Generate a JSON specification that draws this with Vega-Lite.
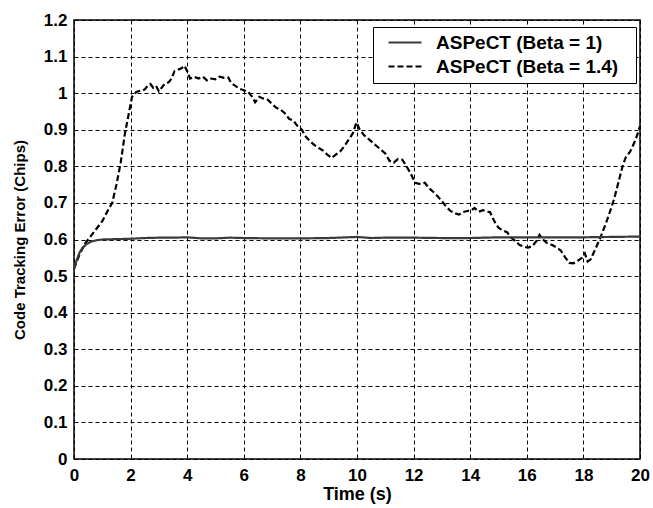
{
  "$schema": "https://vega.github.io/schema/vega-lite/v6.json",
  "width": 566,
  "height": 439,
  "autosize": "none",
  "padding": {"left": 74, "top": 20, "right": 13, "bottom": 49},
  "background": "white",
  "config": {
    "font": "Liberation Sans",
    "view": {"stroke": "black", "strokeWidth": 1.5},
    "axis": {
      "labelFont": "Liberation Sans",
      "labelFontWeight": "bold",
      "labelFontSize": 17,
      "labelColor": "black",
      "titleFont": "Liberation Sans",
      "titleFontWeight": "bold",
      "titleColor": "black",
      "grid": true,
      "gridColor": "black",
      "gridDash": [4, 3],
      "gridWidth": 1,
      "gridOpacity": 1,
      "ticks": false,
      "domain": false
    }
  },
  "datasets": {
    "curves": [
      {"t": 0, "v": 0.52, "s": "ASPeCT (Beta = 1.4)"},
      {"t": 0.2, "v": 0.56, "s": "ASPeCT (Beta = 1.4)"},
      {"t": 0.4, "v": 0.59, "s": "ASPeCT (Beta = 1.4)"},
      {"t": 0.6, "v": 0.61, "s": "ASPeCT (Beta = 1.4)"},
      {"t": 0.8, "v": 0.63, "s": "ASPeCT (Beta = 1.4)"},
      {"t": 1.0, "v": 0.65, "s": "ASPeCT (Beta = 1.4)"},
      {"t": 1.2, "v": 0.68, "s": "ASPeCT (Beta = 1.4)"},
      {"t": 1.35, "v": 0.70, "s": "ASPeCT (Beta = 1.4)"},
      {"t": 1.5, "v": 0.75, "s": "ASPeCT (Beta = 1.4)"},
      {"t": 1.65, "v": 0.81, "s": "ASPeCT (Beta = 1.4)"},
      {"t": 1.8, "v": 0.89, "s": "ASPeCT (Beta = 1.4)"},
      {"t": 1.95, "v": 0.95, "s": "ASPeCT (Beta = 1.4)"},
      {"t": 2.05, "v": 0.99, "s": "ASPeCT (Beta = 1.4)"},
      {"t": 2.2, "v": 1.003, "s": "ASPeCT (Beta = 1.4)"},
      {"t": 2.35, "v": 1.007, "s": "ASPeCT (Beta = 1.4)"},
      {"t": 2.5, "v": 1.01, "s": "ASPeCT (Beta = 1.4)"},
      {"t": 2.6, "v": 1.02, "s": "ASPeCT (Beta = 1.4)"},
      {"t": 2.7, "v": 1.025, "s": "ASPeCT (Beta = 1.4)"},
      {"t": 2.8, "v": 1.015, "s": "ASPeCT (Beta = 1.4)"},
      {"t": 2.9, "v": 1.02, "s": "ASPeCT (Beta = 1.4)"},
      {"t": 3.0, "v": 1.005, "s": "ASPeCT (Beta = 1.4)"},
      {"t": 3.1, "v": 1.015, "s": "ASPeCT (Beta = 1.4)"},
      {"t": 3.2, "v": 1.025, "s": "ASPeCT (Beta = 1.4)"},
      {"t": 3.35, "v": 1.03, "s": "ASPeCT (Beta = 1.4)"},
      {"t": 3.45, "v": 1.04, "s": "ASPeCT (Beta = 1.4)"},
      {"t": 3.55, "v": 1.06, "s": "ASPeCT (Beta = 1.4)"},
      {"t": 3.7, "v": 1.065, "s": "ASPeCT (Beta = 1.4)"},
      {"t": 3.8, "v": 1.068, "s": "ASPeCT (Beta = 1.4)"},
      {"t": 3.9, "v": 1.075, "s": "ASPeCT (Beta = 1.4)"},
      {"t": 4.0, "v": 1.06, "s": "ASPeCT (Beta = 1.4)"},
      {"t": 4.1, "v": 1.04, "s": "ASPeCT (Beta = 1.4)"},
      {"t": 4.25, "v": 1.045, "s": "ASPeCT (Beta = 1.4)"},
      {"t": 4.4, "v": 1.04, "s": "ASPeCT (Beta = 1.4)"},
      {"t": 4.55, "v": 1.045, "s": "ASPeCT (Beta = 1.4)"},
      {"t": 4.7, "v": 1.035, "s": "ASPeCT (Beta = 1.4)"},
      {"t": 4.85, "v": 1.04, "s": "ASPeCT (Beta = 1.4)"},
      {"t": 5.0, "v": 1.038, "s": "ASPeCT (Beta = 1.4)"},
      {"t": 5.15, "v": 1.045, "s": "ASPeCT (Beta = 1.4)"},
      {"t": 5.3, "v": 1.042, "s": "ASPeCT (Beta = 1.4)"},
      {"t": 5.45, "v": 1.043, "s": "ASPeCT (Beta = 1.4)"},
      {"t": 5.55, "v": 1.028, "s": "ASPeCT (Beta = 1.4)"},
      {"t": 5.7, "v": 1.02, "s": "ASPeCT (Beta = 1.4)"},
      {"t": 5.85, "v": 1.012, "s": "ASPeCT (Beta = 1.4)"},
      {"t": 6.0, "v": 1.008, "s": "ASPeCT (Beta = 1.4)"},
      {"t": 6.15, "v": 1.004, "s": "ASPeCT (Beta = 1.4)"},
      {"t": 6.3, "v": 0.99, "s": "ASPeCT (Beta = 1.4)"},
      {"t": 6.4, "v": 0.975, "s": "ASPeCT (Beta = 1.4)"},
      {"t": 6.55, "v": 0.99, "s": "ASPeCT (Beta = 1.4)"},
      {"t": 6.7, "v": 0.985, "s": "ASPeCT (Beta = 1.4)"},
      {"t": 6.85, "v": 0.982, "s": "ASPeCT (Beta = 1.4)"},
      {"t": 7.0, "v": 0.97, "s": "ASPeCT (Beta = 1.4)"},
      {"t": 7.15, "v": 0.96, "s": "ASPeCT (Beta = 1.4)"},
      {"t": 7.3, "v": 0.955, "s": "ASPeCT (Beta = 1.4)"},
      {"t": 7.45, "v": 0.945, "s": "ASPeCT (Beta = 1.4)"},
      {"t": 7.6, "v": 0.93, "s": "ASPeCT (Beta = 1.4)"},
      {"t": 7.75, "v": 0.925, "s": "ASPeCT (Beta = 1.4)"},
      {"t": 7.9, "v": 0.91, "s": "ASPeCT (Beta = 1.4)"},
      {"t": 8.05, "v": 0.9, "s": "ASPeCT (Beta = 1.4)"},
      {"t": 8.2, "v": 0.88, "s": "ASPeCT (Beta = 1.4)"},
      {"t": 8.35, "v": 0.868, "s": "ASPeCT (Beta = 1.4)"},
      {"t": 8.5, "v": 0.858, "s": "ASPeCT (Beta = 1.4)"},
      {"t": 8.65, "v": 0.85, "s": "ASPeCT (Beta = 1.4)"},
      {"t": 8.8, "v": 0.843, "s": "ASPeCT (Beta = 1.4)"},
      {"t": 8.95, "v": 0.832, "s": "ASPeCT (Beta = 1.4)"},
      {"t": 9.1, "v": 0.823, "s": "ASPeCT (Beta = 1.4)"},
      {"t": 9.25, "v": 0.832, "s": "ASPeCT (Beta = 1.4)"},
      {"t": 9.4, "v": 0.84, "s": "ASPeCT (Beta = 1.4)"},
      {"t": 9.55, "v": 0.855, "s": "ASPeCT (Beta = 1.4)"},
      {"t": 9.7, "v": 0.872, "s": "ASPeCT (Beta = 1.4)"},
      {"t": 9.85, "v": 0.89, "s": "ASPeCT (Beta = 1.4)"},
      {"t": 9.98, "v": 0.92, "s": "ASPeCT (Beta = 1.4)"},
      {"t": 10.1, "v": 0.9, "s": "ASPeCT (Beta = 1.4)"},
      {"t": 10.25, "v": 0.885, "s": "ASPeCT (Beta = 1.4)"},
      {"t": 10.4, "v": 0.875, "s": "ASPeCT (Beta = 1.4)"},
      {"t": 10.55, "v": 0.865, "s": "ASPeCT (Beta = 1.4)"},
      {"t": 10.7, "v": 0.855, "s": "ASPeCT (Beta = 1.4)"},
      {"t": 10.85, "v": 0.845, "s": "ASPeCT (Beta = 1.4)"},
      {"t": 11.0, "v": 0.835, "s": "ASPeCT (Beta = 1.4)"},
      {"t": 11.15, "v": 0.815, "s": "ASPeCT (Beta = 1.4)"},
      {"t": 11.3, "v": 0.81, "s": "ASPeCT (Beta = 1.4)"},
      {"t": 11.45, "v": 0.82, "s": "ASPeCT (Beta = 1.4)"},
      {"t": 11.6, "v": 0.818, "s": "ASPeCT (Beta = 1.4)"},
      {"t": 11.75, "v": 0.8, "s": "ASPeCT (Beta = 1.4)"},
      {"t": 11.9, "v": 0.78, "s": "ASPeCT (Beta = 1.4)"},
      {"t": 12.05, "v": 0.755, "s": "ASPeCT (Beta = 1.4)"},
      {"t": 12.2, "v": 0.752, "s": "ASPeCT (Beta = 1.4)"},
      {"t": 12.4, "v": 0.755, "s": "ASPeCT (Beta = 1.4)"},
      {"t": 12.55, "v": 0.74, "s": "ASPeCT (Beta = 1.4)"},
      {"t": 12.7, "v": 0.73, "s": "ASPeCT (Beta = 1.4)"},
      {"t": 12.85, "v": 0.718, "s": "ASPeCT (Beta = 1.4)"},
      {"t": 13.0, "v": 0.705, "s": "ASPeCT (Beta = 1.4)"},
      {"t": 13.15, "v": 0.69, "s": "ASPeCT (Beta = 1.4)"},
      {"t": 13.3, "v": 0.678, "s": "ASPeCT (Beta = 1.4)"},
      {"t": 13.45, "v": 0.672, "s": "ASPeCT (Beta = 1.4)"},
      {"t": 13.6, "v": 0.668, "s": "ASPeCT (Beta = 1.4)"},
      {"t": 13.75, "v": 0.675, "s": "ASPeCT (Beta = 1.4)"},
      {"t": 13.9, "v": 0.678, "s": "ASPeCT (Beta = 1.4)"},
      {"t": 14.05, "v": 0.68, "s": "ASPeCT (Beta = 1.4)"},
      {"t": 14.15, "v": 0.686, "s": "ASPeCT (Beta = 1.4)"},
      {"t": 14.3, "v": 0.676, "s": "ASPeCT (Beta = 1.4)"},
      {"t": 14.45, "v": 0.68, "s": "ASPeCT (Beta = 1.4)"},
      {"t": 14.6, "v": 0.676, "s": "ASPeCT (Beta = 1.4)"},
      {"t": 14.7, "v": 0.675, "s": "ASPeCT (Beta = 1.4)"},
      {"t": 14.85, "v": 0.65, "s": "ASPeCT (Beta = 1.4)"},
      {"t": 15.0, "v": 0.632, "s": "ASPeCT (Beta = 1.4)"},
      {"t": 15.15, "v": 0.625, "s": "ASPeCT (Beta = 1.4)"},
      {"t": 15.3, "v": 0.62, "s": "ASPeCT (Beta = 1.4)"},
      {"t": 15.45, "v": 0.605, "s": "ASPeCT (Beta = 1.4)"},
      {"t": 15.6, "v": 0.595, "s": "ASPeCT (Beta = 1.4)"},
      {"t": 15.75, "v": 0.585, "s": "ASPeCT (Beta = 1.4)"},
      {"t": 15.9, "v": 0.58, "s": "ASPeCT (Beta = 1.4)"},
      {"t": 16.05, "v": 0.578, "s": "ASPeCT (Beta = 1.4)"},
      {"t": 16.2, "v": 0.582, "s": "ASPeCT (Beta = 1.4)"},
      {"t": 16.35, "v": 0.597, "s": "ASPeCT (Beta = 1.4)"},
      {"t": 16.45, "v": 0.613, "s": "ASPeCT (Beta = 1.4)"},
      {"t": 16.6, "v": 0.598, "s": "ASPeCT (Beta = 1.4)"},
      {"t": 16.75, "v": 0.588, "s": "ASPeCT (Beta = 1.4)"},
      {"t": 16.9, "v": 0.585, "s": "ASPeCT (Beta = 1.4)"},
      {"t": 17.05, "v": 0.578, "s": "ASPeCT (Beta = 1.4)"},
      {"t": 17.2, "v": 0.57, "s": "ASPeCT (Beta = 1.4)"},
      {"t": 17.35, "v": 0.552, "s": "ASPeCT (Beta = 1.4)"},
      {"t": 17.5, "v": 0.536, "s": "ASPeCT (Beta = 1.4)"},
      {"t": 17.65, "v": 0.535, "s": "ASPeCT (Beta = 1.4)"},
      {"t": 17.8, "v": 0.542, "s": "ASPeCT (Beta = 1.4)"},
      {"t": 17.95, "v": 0.55, "s": "ASPeCT (Beta = 1.4)"},
      {"t": 18.05, "v": 0.562, "s": "ASPeCT (Beta = 1.4)"},
      {"t": 18.15, "v": 0.54, "s": "ASPeCT (Beta = 1.4)"},
      {"t": 18.25, "v": 0.545, "s": "ASPeCT (Beta = 1.4)"},
      {"t": 18.4, "v": 0.57, "s": "ASPeCT (Beta = 1.4)"},
      {"t": 18.6, "v": 0.605, "s": "ASPeCT (Beta = 1.4)"},
      {"t": 18.8, "v": 0.645, "s": "ASPeCT (Beta = 1.4)"},
      {"t": 19.0, "v": 0.69, "s": "ASPeCT (Beta = 1.4)"},
      {"t": 19.1, "v": 0.715, "s": "ASPeCT (Beta = 1.4)"},
      {"t": 19.25, "v": 0.76, "s": "ASPeCT (Beta = 1.4)"},
      {"t": 19.4, "v": 0.805, "s": "ASPeCT (Beta = 1.4)"},
      {"t": 19.5, "v": 0.825, "s": "ASPeCT (Beta = 1.4)"},
      {"t": 19.65, "v": 0.84, "s": "ASPeCT (Beta = 1.4)"},
      {"t": 19.8, "v": 0.865, "s": "ASPeCT (Beta = 1.4)"},
      {"t": 19.9, "v": 0.885, "s": "ASPeCT (Beta = 1.4)"},
      {"t": 20.0, "v": 0.91, "s": "ASPeCT (Beta = 1.4)"},
      {"t": 0, "v": 0.52, "s": "ASPeCT (Beta = 1)"},
      {"t": 0.1, "v": 0.545, "s": "ASPeCT (Beta = 1)"},
      {"t": 0.2, "v": 0.565, "s": "ASPeCT (Beta = 1)"},
      {"t": 0.3, "v": 0.577, "s": "ASPeCT (Beta = 1)"},
      {"t": 0.45, "v": 0.588, "s": "ASPeCT (Beta = 1)"},
      {"t": 0.6, "v": 0.594, "s": "ASPeCT (Beta = 1)"},
      {"t": 0.8, "v": 0.598, "s": "ASPeCT (Beta = 1)"},
      {"t": 1.0, "v": 0.6, "s": "ASPeCT (Beta = 1)"},
      {"t": 1.5, "v": 0.601, "s": "ASPeCT (Beta = 1)"},
      {"t": 2.0, "v": 0.602, "s": "ASPeCT (Beta = 1)"},
      {"t": 2.5, "v": 0.604, "s": "ASPeCT (Beta = 1)"},
      {"t": 3.0, "v": 0.605, "s": "ASPeCT (Beta = 1)"},
      {"t": 3.5, "v": 0.605, "s": "ASPeCT (Beta = 1)"},
      {"t": 4.0, "v": 0.606, "s": "ASPeCT (Beta = 1)"},
      {"t": 4.5, "v": 0.603, "s": "ASPeCT (Beta = 1)"},
      {"t": 5.0, "v": 0.603, "s": "ASPeCT (Beta = 1)"},
      {"t": 5.5, "v": 0.605, "s": "ASPeCT (Beta = 1)"},
      {"t": 6.0, "v": 0.604, "s": "ASPeCT (Beta = 1)"},
      {"t": 7.0, "v": 0.603, "s": "ASPeCT (Beta = 1)"},
      {"t": 8.0, "v": 0.603, "s": "ASPeCT (Beta = 1)"},
      {"t": 9.0, "v": 0.604, "s": "ASPeCT (Beta = 1)"},
      {"t": 10.0, "v": 0.607, "s": "ASPeCT (Beta = 1)"},
      {"t": 10.5, "v": 0.604, "s": "ASPeCT (Beta = 1)"},
      {"t": 11.0, "v": 0.605, "s": "ASPeCT (Beta = 1)"},
      {"t": 12.0, "v": 0.605, "s": "ASPeCT (Beta = 1)"},
      {"t": 13.0, "v": 0.604, "s": "ASPeCT (Beta = 1)"},
      {"t": 14.0, "v": 0.604, "s": "ASPeCT (Beta = 1)"},
      {"t": 15.0, "v": 0.606, "s": "ASPeCT (Beta = 1)"},
      {"t": 16.0, "v": 0.606, "s": "ASPeCT (Beta = 1)"},
      {"t": 17.0, "v": 0.606, "s": "ASPeCT (Beta = 1)"},
      {"t": 18.0, "v": 0.606, "s": "ASPeCT (Beta = 1)"},
      {"t": 19.0, "v": 0.607, "s": "ASPeCT (Beta = 1)"},
      {"t": 20.0, "v": 0.608, "s": "ASPeCT (Beta = 1)"}
    ]
  },
  "data": {"name": "curves"},
  "mark": {"type": "line", "strokeWidth": 2.2, "clip": true},
  "encoding": {
    "x": {
      "field": "t",
      "type": "quantitative",
      "scale": {"domain": [0, 20], "nice": false, "zero": false},
      "axis": {"title": "Time (s)", "titleFontSize": 18, "values": [0, 2, 4, 6, 8, 10, 12, 14, 16, 18, 20], "labelPadding": 8, "titlePadding": 2, "labelFlush": false}
    },
    "y": {
      "field": "v",
      "type": "quantitative",
      "scale": {"domain": [0, 1.2], "nice": false},
      "axis": {"title": "Code Tracking Error (Chips)", "titleFontSize": 15, "values": [0, 0.1, 0.2, 0.3, 0.4, 0.5, 0.6, 0.7, 0.8, 0.9, 1, 1.1, 1.2], "format": "~g", "labelPadding": 7, "titlePadding": 16, "labelFlush": false}
    },
    "color": {
      "field": "s",
      "type": "nominal",
      "scale": {"domain": ["ASPeCT (Beta = 1)", "ASPeCT (Beta = 1.4)"], "range": ["#3a3a3a", "#000000"]},
      "legend": {
        "title": " ",
        "titleOrient": "right",
        "titlePadding": 12,
        "titleFontSize": 4,
        "orient": "none",
        "legendX": 299,
        "legendY": 7,
        "strokeColor": "black",
        "fillColor": "white",
        "padding": 6,
        "symbolType": "M0,0L6,0",
        "symbolSize": 121,
        "symbolStrokeWidth": 2,
        "labelFont": "Liberation Sans",
        "labelFontWeight": "bold",
        "labelFontSize": 19,
        "labelColor": "black",
        "labelOffset": 38,
        "rowPadding": 4,
        "labelLimit": 400
      }
    },
    "strokeDash": {
      "field": "s",
      "type": "nominal",
      "scale": {"domain": ["ASPeCT (Beta = 1)", "ASPeCT (Beta = 1.4)"], "range": [[1, 0], [6, 3]]},
      "legend": null
    }
  }
}
